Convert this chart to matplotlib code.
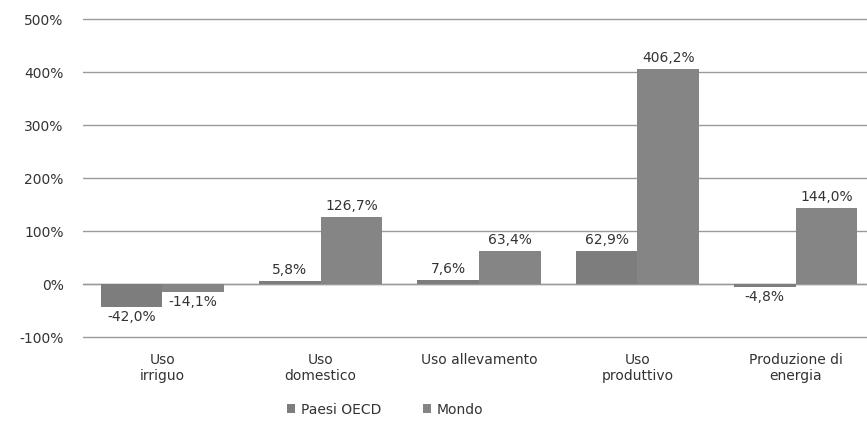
import numpy as np
import matplotlib.pyplot as plt
from matplotlib.ticker import FuncFormatter

categories = ["Uso\nirriguo", "Uso\ndomestico", "Uso allevamento", "Uso\nproduttivo", "Produzione di\nenergia"]
oecd = [-42.0, 5.8, 7.6, 62.9, -4.8]
mondo = [-14.1, 126.7, 63.4, 406.2, 144.0]
yticks = [-100, 0, 100, 200, 300, 400, 500]

def fmt(v):
    return ("%.1f%%" % v).replace(".", ",")

fig = plt.figure(figsize=(8.67, 4.42), dpi=100)
ax = fig.add_axes([0.096, 0.233, 0.904, 0.727])

x = np.arange(len(categories))
w = 0.39
b1 = ax.bar(x - w/2, oecd, w, color="#7d7d7d", label="Paesi OECD", zorder=2)
b2 = ax.bar(x + w/2, mondo, w, color="#858585", label="Mondo", zorder=2)

for bars, vals in ((b1, oecd), (b2, mondo)):
    for r, v in zip(bars, vals):
        cx = r.get_x() + r.get_width() / 2
        if v >= 0:
            ax.text(cx, v + 8, fmt(v), ha="center", va="bottom", fontsize=10, color="#333333")
        else:
            ax.text(cx, v - 6, fmt(v), ha="center", va="top", fontsize=10, color="#333333")

ax.set_ylim(-103, 503)
ax.set_xlim(-0.5, 4.45)
ax.set_yticks(yticks)
ax.yaxis.set_major_formatter(FuncFormatter(lambda v, p: "%d%%" % v))
ax.set_xticks(x)
ax.set_xticklabels(categories, fontsize=10, color="#333333")
ax.tick_params(axis="y", labelsize=10, labelcolor="#333333", length=0, pad=14)
ax.tick_params(axis="x", length=0, pad=10)
ax.grid(axis="y", color="#9a9a9a", linewidth=1, zorder=0)
ax.axhline(0, color="#9a9a9a", linewidth=1, zorder=1)
for s in ax.spines.values():
    s.set_visible(False)

ax.legend(loc="center", bbox_to_anchor=(0.385, -0.22), ncol=2, frameon=False,
          fontsize=10, handlelength=0.6, handleheight=0.6, columnspacing=3, handletextpad=0.4,
          labelcolor="#333333")

fig.savefig("out.png", dpi=100)
